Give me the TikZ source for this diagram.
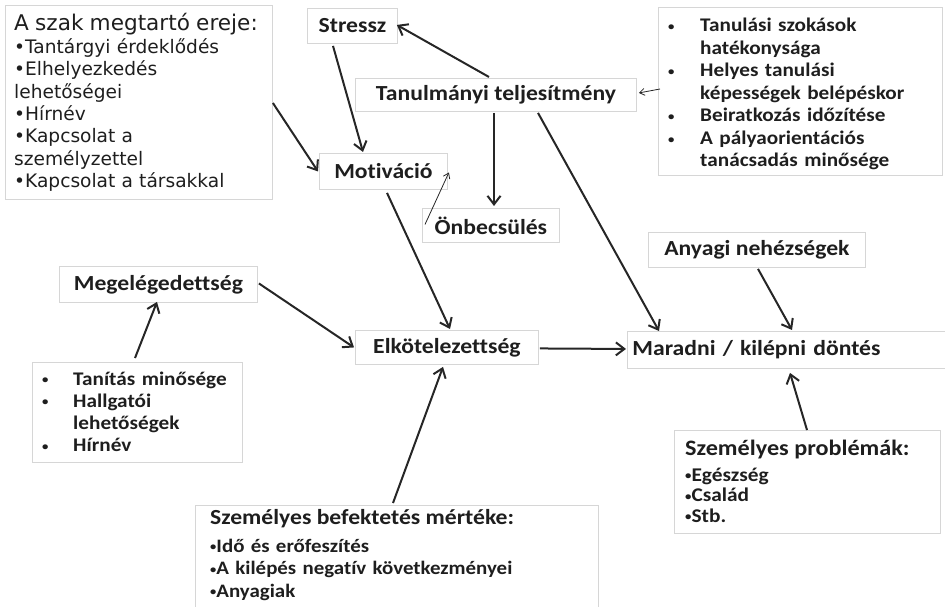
\documentclass[tikz,border=0pt]{standalone}
\usepackage{fontspec}
\usepackage{graphicx}
\usetikzlibrary{arrows.meta,calc}
\newfontfamily\cf{Carlito}[FakeStretch=1.1, Ligatures=NoCommon]
\newfontfamily\vf{DejaVu Sans}
\newcommand\bul{\raisebox{0.07em}{\scalebox{0.6}{•}}}
\definecolor{bordc}{HTML}{D6D6D6}
\definecolor{linec}{HTML}{262626}
\definecolor{textc}{HTML}{1E1E1E}
\begin{document}
\begin{tikzpicture}[x=1pt,y=-1pt,
  box/.style={draw=bordc, line width=0.9pt, anchor=north west, inner sep=0pt, text=textc,
    font=\cf\bfseries\fontsize{21.5}{24}\selectfont},
  txt/.style={anchor=base west, inner sep=0pt, align=left, text=textc},
  arr/.style={draw=linec, line width=2pt, -{Straight Barb[length=8.5pt,width=13pt]}},
  thinarr/.style={draw=linec, line width=0.8pt, -{Straight Barb[length=5pt,width=7pt]}}]
\useasboundingbox (0,0) rectangle (945,607);
% boxes
\node[box, minimum width=267pt, minimum height=194pt] (szak) at (5,5) {};
\node[box, minimum width=90pt, minimum height=35pt] (stressz) at (307,8) {Stressz};
\node[box, minimum width=281pt, minimum height=33pt] (tanul) at (355,78) {Tanulmányi teljesítmény};
\node[box, minimum width=284pt, minimum height=168pt] (jobb) at (658,7) {};
\node[box, minimum width=128pt, minimum height=36pt] (motiv) at (319,153) {Motiváció};
\node[box, minimum width=137pt, minimum height=34pt] (onbecs) at (422,208) {Önbecsülés};
\node[box, minimum width=198pt, minimum height=36pt] (megel) at (59,266) {Megelégedettség};
\node[box, minimum width=183pt, minimum height=34pt] (elkot) at (355,330) {Elkötelezettség};
\node[box, minimum width=330pt, minimum height=37pt, text width=320pt, align=left, inner xsep=5pt] (maradni) at (627,331) {Maradni / kilépni döntés};
\node[box, minimum width=217pt, minimum height=35pt] (anyagi) at (648,232) {Anyagi nehézségek};
\node[box, minimum width=210pt, minimum height=100pt] (tanitas) at (32,362) {};
\node[box, minimum width=266pt, minimum height=103pt] (szemprob) at (674,430) {};
\node[box, minimum width=403pt, minimum height=120pt] (befekt) at (195,505) {};
% texts in boxes
\node[txt, text width=258pt, font=\vf\fontsize{18.6}{22.4}\selectfont] (szaktxt) at (14,31)
 {{\fontsize{21.6}{22.4}\selectfont A szak megtartó ereje:}\\
  •Tantárgyi érdeklődés\\•Elhelyezkedés\\lehetőségei\\•Hírnév\\•Kapcsolat a\\személyzettel\\•Kapcsolat a társakkal};
\node[txt, text width=268pt, font=\cf\bfseries\fontsize{19.3}{22.5}\selectfont] (jobbtxt) at (668,32)
 {\makebox[32pt][l]{\bul}Tanulási szokások\\\hspace*{32pt}hatékonysága\\
  \makebox[32pt][l]{\bul}Helyes tanulási\\\hspace*{32pt}képességek belépéskor\\
  \makebox[32pt][l]{\bul}Beiratkozás időzítése\\
  \makebox[32pt][l]{\bul}A pályaorientációs\\\hspace*{32pt}tanácsadás minősége};
\node[txt, text width=200pt, font=\cf\bfseries\fontsize{19.3}{22.3}\selectfont] (tanitastxt) at (42,385)
 {\makebox[31pt][l]{\bul}Tanítás minősége\\
  \makebox[31pt][l]{\bul}Hallgatói\\\hspace*{31pt}lehetőségek\\
  \makebox[31pt][l]{\bul}Hírnév};
\node[txt, font=\cf\bfseries\fontsize{22}{24}\selectfont] (szemprobcim) at (685,455) {Személyes problémák:};
\node[txt, text width=240pt, font=\cf\bfseries\fontsize{19.4}{20.5}\selectfont] (szemprobtxt) at (685,481)
 {\bul Egészség\\\bul Család\\\bul Stb.};
\node[txt, font=\cf\bfseries\fontsize{21.5}{24}\selectfont] (befektcim) at (210,524) {Személyes befektetés mértéke:};
\node[txt, text width=380pt, font=\cf\bfseries\fontsize{19}{22.5}\selectfont] (befekttxt) at (210,552)
 {\bul Idő és erőfeszítés\\\bul A kilépés negatív következményei\\\bul Anyagiak};
% connectors
\draw[arr] ($(szak.north east)+(0,98)$) -- ($(motiv.west)+(-1,0)$);
\draw[arr] ($(stressz.south west)+(26,2)$) -- ($(motiv.north west)+(44,-1)$);
\draw[arr] ($(tanul.north west)+(134,-1)$) -- ($(stressz.east)+(-1,-1)$);
\draw[arr] ($(tanul.south west)+(139,1)$) -- ($(onbecs.north west)+(72,-2)$);
\draw[arr] ($(tanul.south west)+(183,1)$) -- ($(maradni.north west)+(32,0)$);
\draw[thinarr] ($(onbecs.west)+(3,-1)$) -- ($(motiv.east)+(1,1)$);
\draw[thinarr] ($(jobb.north west)+(2,82)$) -- ($(tanul.east)+(2,-2)$);
\draw[arr] ($(motiv.south west)+(68,3)$) -- ($(elkot.north west)+(95,-1)$);
\draw[arr] ($(megel.east)+(1,-1)$) -- ($(elkot.west)+(-1,0)$);
\draw[arr] ($(tanitas.north west)+(103,-4)$) -- ($(megel.south west)+(98,-1)$);
\draw[arr] ($(befekt.north west)+(198,-2)$) -- ($(elkot.south west)+(88,2)$);
\draw[arr] ($(elkot.east)+(1,1)$) -- ($(maradni.west)+(-1,-1)$);
\draw[arr] ($(anyagi.south west)+(110,1)$) -- ($(maradni.north west)+(165,-1)$);
\draw[arr] ($(szemprob.north west)+(133,0)$) -- ($(maradni.south west)+(163,4)$);
\end{tikzpicture}
\end{document}
